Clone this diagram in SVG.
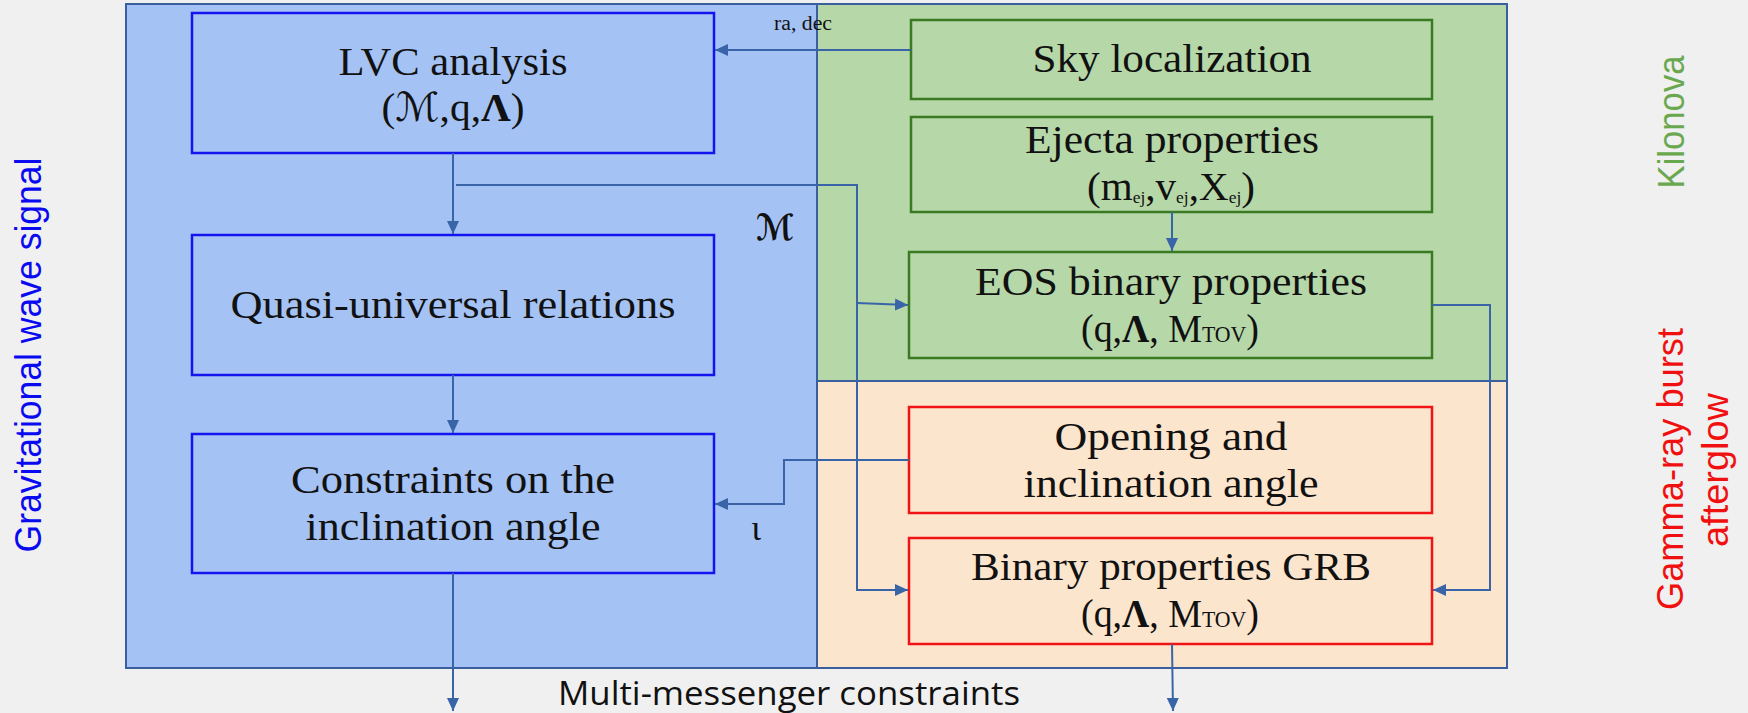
<svg xmlns="http://www.w3.org/2000/svg" width="1748" height="713" viewBox="0 0 1748 713">
  <style>
    .region { stroke: #3a5f9f; stroke-width: 2; }
    .gw { fill: #a4c2f4; }
    .kn { fill: #b6d7a8; }
    .grb { fill: #fce5cd; }
    .box-b { fill: none; stroke: #1414f0; stroke-width: 2.5; }
    .box-g { fill: none; stroke: #3a7a22; stroke-width: 2.5; }
    .box-r { fill: none; stroke: #f01414; stroke-width: 2.5; }
    .lbl { font-family: "Liberation Serif", "Times New Roman", serif; font-size: 40px; fill: #111; text-anchor: middle; }
    .sub { font-size: 17px; }
    .sc { font-size: 23px; }
    .bold { font-weight: bold; }
    .scr { font-family: "DejaVu Sans", "DejaVu Serif", sans-serif; font-style: italic; }
    .side { font-family: "Liberation Sans", Arial, sans-serif; font-size: 36px; text-anchor: middle; }
    .conn { fill: none; stroke: #3a64a8; stroke-width: 2; }
  </style>
  <defs>
    <marker id="arrow" markerUnits="userSpaceOnUse" markerWidth="14" markerHeight="12" refX="13" refY="6" orient="auto">
      <path d="M0,0 L13,6 L0,12 z" fill="#3a64a8"/>
    </marker>
  </defs>

  <rect x="0" y="0" width="1748" height="713" fill="#f0f0f0"/>

  <!-- source panels -->
  <g id="panel-gw">
    <rect class="region gw" x="126" y="4" width="691" height="664"/>
  </g>
  <g id="panel-kilonova">
    <rect class="region kn" x="817" y="4" width="690" height="377"/>
  </g>
  <g id="panel-grb">
    <rect class="region grb" x="817" y="381" width="690" height="287"/>
  </g>

  <!-- side titles -->
  <text class="side" fill="#0a0af0" transform="translate(41,355) rotate(-90)" textLength="395" lengthAdjust="spacingAndGlyphs">Gravitational wave signal</text>
  <text class="side" fill="#6aa84f" transform="translate(1684,122) rotate(-90)" textLength="133" lengthAdjust="spacingAndGlyphs">Kilonova</text>
  <text class="side" fill="#f01010" transform="translate(1683,469) rotate(-90)" textLength="282" lengthAdjust="spacingAndGlyphs">Gamma-ray burst</text>
  <text class="side" fill="#f01010" transform="translate(1728,470) rotate(-90)" textLength="154" lengthAdjust="spacingAndGlyphs">afterglow</text>

  <!-- nodes -->
  <g id="lvc-analysis">
    <rect class="box-b" x="192" y="13" width="522" height="140"/>
    <text class="lbl" x="453" y="75" textLength="229" lengthAdjust="spacingAndGlyphs">LVC analysis</text>
    <text class="lbl" x="453" y="121" textLength="143" lengthAdjust="spacingAndGlyphs">(<tspan class="scr">ℳ</tspan>,q,<tspan class="bold">Λ</tspan>)</text>
  </g>
  <g id="quasi-universal">
    <rect class="box-b" x="192" y="235" width="522" height="140"/>
    <text class="lbl" x="453" y="318" textLength="445" lengthAdjust="spacingAndGlyphs">Quasi-universal relations</text>
  </g>
  <g id="inclination-constraints">
    <rect class="box-b" x="192" y="434" width="522" height="139"/>
    <text class="lbl" x="453" y="493" textLength="324" lengthAdjust="spacingAndGlyphs">Constraints on the</text>
    <text class="lbl" x="453" y="540" textLength="295" lengthAdjust="spacingAndGlyphs">inclination angle</text>
  </g>
  <g id="sky-localization">
    <rect class="box-g" x="911" y="20" width="521" height="79"/>
    <text class="lbl" x="1172" y="72" textLength="279" lengthAdjust="spacingAndGlyphs">Sky localization</text>
  </g>
  <g id="ejecta-properties">
    <rect class="box-g" x="911" y="117" width="521" height="95"/>
    <text class="lbl" x="1172" y="153" textLength="294" lengthAdjust="spacingAndGlyphs">Ejecta properties</text>
    <text class="lbl" x="1171" y="200" textLength="168" lengthAdjust="spacingAndGlyphs">(m<tspan class="sub" dy="3">ej</tspan><tspan dy="-3">,v</tspan><tspan class="sub" dy="3">ej</tspan><tspan dy="-3">,X</tspan><tspan class="sub" dy="3">ej</tspan><tspan dy="-3">)</tspan></text>
  </g>
  <g id="eos-binary">
    <rect class="box-g" x="909" y="252" width="523" height="106"/>
    <text class="lbl" x="1171" y="295" textLength="392" lengthAdjust="spacingAndGlyphs">EOS binary properties</text>
    <text class="lbl" x="1170" y="342" textLength="178" lengthAdjust="spacingAndGlyphs">(q,<tspan class="bold">Λ</tspan>, M<tspan class="sc">TOV</tspan>)</text>
  </g>
  <g id="opening-angle">
    <rect class="box-r" x="909" y="407" width="523" height="106"/>
    <text class="lbl" x="1171" y="450" textLength="233" lengthAdjust="spacingAndGlyphs">Opening and</text>
    <text class="lbl" x="1171" y="497" textLength="295" lengthAdjust="spacingAndGlyphs">inclination angle</text>
  </g>
  <g id="binary-grb">
    <rect class="box-r" x="909" y="538" width="523" height="106"/>
    <text class="lbl" x="1171" y="580" textLength="400" lengthAdjust="spacingAndGlyphs">Binary properties GRB</text>
    <text class="lbl" x="1170" y="627" textLength="178" lengthAdjust="spacingAndGlyphs">(q,<tspan class="bold">Λ</tspan>, M<tspan class="sc">TOV</tspan>)</text>
  </g>

  <!-- connectors -->
  <g id="connectors">
    <path class="conn" d="M911,50 H715" marker-end="url(#arrow)"/>
    <path class="conn" d="M453,153 V234" marker-end="url(#arrow)"/>
    <path class="conn" d="M453,375 V433" marker-end="url(#arrow)"/>
    <path class="conn" d="M453,573 V711" marker-end="url(#arrow)"/>
    <path class="conn" d="M456,185 H857 V590 H908" marker-end="url(#arrow)"/>
    <path class="conn" d="M857,303 L908,305" marker-end="url(#arrow)"/>
    <path class="conn" d="M1172,212 V251" marker-end="url(#arrow)"/>
    <path class="conn" d="M1432,305 H1490 V590 H1433" marker-end="url(#arrow)"/>
    <path class="conn" d="M909,460 H784 V504 H715" marker-end="url(#arrow)"/>
    <path class="conn" d="M1172,644 L1173,711" marker-end="url(#arrow)"/>
    <text class="lbl" x="803" y="30" style="font-size:20px" textLength="58" lengthAdjust="spacingAndGlyphs">ra, dec</text>
    <text class="lbl scr" x="775" y="240" style="font-size:36px;font-weight:bold" textLength="38" lengthAdjust="spacingAndGlyphs">ℳ</text>
    <text class="lbl" x="756" y="540" style="font-size:36px">ι</text>
  </g>

  <text x="789" y="705" font-family="Open Sans, Liberation Sans, sans-serif" font-size="32" fill="#111" text-anchor="middle" textLength="462" lengthAdjust="spacingAndGlyphs">Multi-messenger constraints</text>
</svg>
